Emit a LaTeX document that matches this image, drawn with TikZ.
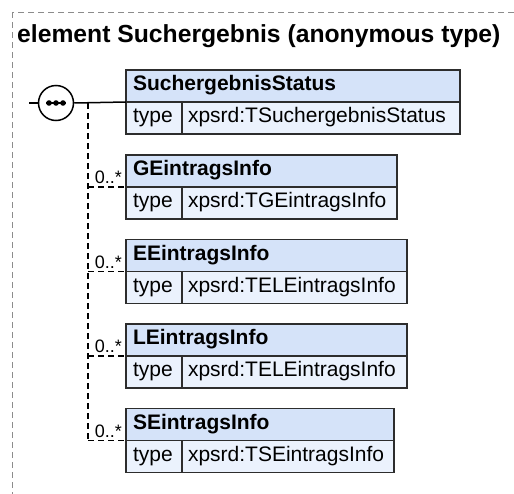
\documentclass[tikz,border=0pt]{standalone}
\usepackage{fontspec}
\setmainfont{Liberation Sans}
\usetikzlibrary{positioning}
\definecolor{HeadBlue}{RGB}{213,227,249}
\definecolor{RowBlue}{RGB}{235,242,253}
\definecolor{FrameGray}{RGB}{140,140,140}
\definecolor{LineDark}{RGB}{45,45,45}

\tikzset{
	hdr/.style={draw=LineDark, line width=1.5pt, fill=HeadBlue, anchor=north west,
		inner xsep=7pt, inner ysep=0pt, outer sep=0pt, minimum height=32pt,
		text height=15pt, text depth=6pt, align=left,
		font=\bfseries\fontsize{21}{24}\selectfont},
	cell/.style={draw=LineDark, line width=1.5pt, fill=RowBlue, anchor=north west,
		inner ysep=0pt, outer sep=0pt, minimum height=32pt,
		text height=15pt, text depth=6pt, align=left,
		font=\fontsize{21}{24}\selectfont},
	seqc/.style={circle, draw=black, line width=1.5pt, fill=white, minimum size=35pt, inner sep=0pt},
	conn/.style={black, line width=1.5pt},
	opt/.style={black, line width=1.3pt, dash pattern=on 6pt off 4pt},
	mult/.style={anchor=base east, inner sep=0pt, xshift=-4pt, yshift=3.5pt,
		font=\fontsize{18}{20}\selectfont}
}

\begin{document}
\begin{tikzpicture}[x=1pt, y=-1pt]
	\useasboundingbox (0,0) rectangle (514,493);
	\clip (0,0) rectangle (514,493);
	% outer frame
	\draw[FrameGray, line width=1pt, dash pattern=on 6pt off 4pt] (12,12) rectangle (540,520);
	\node[anchor=base west, inner sep=0pt, font=\bfseries\fontsize{24.7}{30}\selectfont] (title) at (17,42)
		{element Suchergebnis (anonymous type)};

	% first child
	\node[hdr, text width=320pt] (h0) at (126,70) {SuchergebnisStatus};
	\node[cell, inner xsep=7pt, text width=42pt] (t0) at (h0.south west) {type};
	\node[cell, inner xsep=6pt, text width=266pt] (v0) at (t0.north east) {xpsrd:TSuchergebnisStatus};

	% sequence compositor
	\coordinate (stub) at (29,103);
	\coordinate (spine) at (88,103);
	\node[seqc] (seq) at (56,103) {};
	\draw[conn] (stub) -- (seq.west);
	\draw[conn] (seq.east) -- (h0.south west);
	\draw[line width=1.3pt] ([xshift=-10pt]seq.center) -- ([xshift=10pt]seq.center);
	\foreach \dx in {-7,0,7}
		\fill ([xshift=\dx pt]seq.center) circle (2.8pt);

	% optional children
	\foreach \nm/\tp/\w/\y [count=\i] in {GEintragsInfo/TGEintragsInfo/271/155,
			EEintragsInfo/TELEintragsInfo/281/239.5,
			LEintragsInfo/TELEintragsInfo/281/324,
			SEintragsInfo/TSEintragsInfo/268/408.5}{
		\pgfmathsetmacro\hw{\w-14}
		\pgfmathsetmacro\vw{\w-56-12}
		\node[hdr, text width=\hw pt] (h\i) at (126,\y) {\nm};
		\node[cell, inner xsep=7pt, text width=42pt] (t\i) at (h\i.south west) {type};
		\node[cell, inner xsep=6pt, text width=\vw pt] (v\i) at (t\i.north east) {xpsrd:\tp};
		\draw[opt] (spine |- h\i.south west) -- (h\i.south west);
		\node[mult] (m\i) at (h\i.south west) {0..*};
	}
	\draw[opt] (spine) -- (spine |- h4.south west);
\end{tikzpicture}
\end{document}
